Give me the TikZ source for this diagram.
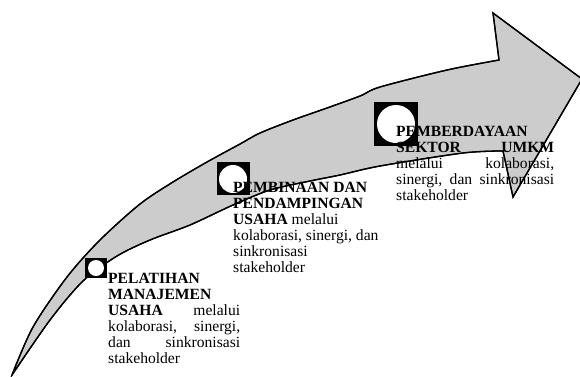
\documentclass[tikz,border=0pt]{standalone}
\usepackage{fontspec}
\setmainfont{Liberation Serif}
\begin{document}
\begin{tikzpicture}[x=1pt,y=-1pt,
  arrowbody/.style={fill=black!20},
  arrowline/.style={draw=black, line width=1.3pt, line join=miter, miter limit=20},
  marker/.style={fill=black, draw=none, inner sep=0pt, anchor=north west},
  hole/.style={fill=white, draw=none, circle, inner sep=0pt},
  txt/.style={inner sep=0pt, anchor=base west, font=\fontsize{15.6}{16}\selectfont}]
\useasboundingbox (0,0) rectangle (580,376);
\begin{scope}
\clip (0,0) rectangle (580,376);
% arrow body with outline
\path[arrowbody, arrowline] plot[smooth] coordinates {(12,375) (33,327) (67,277) (100,240) (140,204) (173,182) (207,162) (240,144) (260,133) (293,120) (327,108) (360,96) (380,87) (447,70) (499,60)}
  -- (493,13) -- (582,79) -- (513,197) -- (503,151)
  -- plot[smooth] coordinates {(503,151) (463,153) (380,166) (340,175) (310,181) (270,190) (233,205) (190,225) (150,240) (117,256) (83,281) (50,320) (12,375)} -- cycle;
\end{scope}
% markers
\node[marker, minimum width=22pt, minimum height=20pt] (s1) at (85,258) {};
\node[hole, minimum size=16pt] (c1) at (96,268) {};
\node[marker, minimum width=33pt, minimum height=33pt] (s2) at (217,162) {};
\node[hole, minimum size=28pt] (c2) at (233,179) {};
\node[marker, minimum width=44pt, minimum height=44pt] (s3) at (374,102) {};
\node[hole, minimum size=38pt] (c3) at (396,124) {};
% texts
\node[txt] (t1) at (108,283) {\parbox[t]{132pt}{\raggedright
  \textbf{PELATIHAN}\\
  \textbf{MANAJEMEN}\\
  \textbf{USAHA}\hfill melalui\\
  kolaborasi,\hfill sinergi,\\
  dan\hfill sinkronisasi\\
  stakeholder}};
\node[txt] (t2) at (233,192) {\parbox[t]{155pt}{\raggedright
  \textbf{PEMBINAAN DAN}\\
  \textbf{PENDAMPINGAN}\\
  \textbf{USAHA} melalui\\
  kolaborasi, sinergi, dan\\
  sinkronisasi\\
  stakeholder}};
\node[txt] (t3) at (396,136) {\parbox[t]{158pt}{\raggedright
  \textbf{PEMBERDAYAAN}\\
  \textbf{SEKTOR}\hfill\textbf{UMKM}\\
  melalui\hfill kolaborasi,\\
  sinergi,\hfill dan\hfill sinkronisasi\\
  stakeholder}};
% arrow outline again, over the texts but not over the markers
\begin{scope}[even odd rule]
\clip (0,0) rectangle (580,376)
  (s1.north west) rectangle (s1.south east)
  (s2.north west) rectangle (s2.south east)
  (s3.north west) rectangle (s3.south east);
\path[arrowline] plot[smooth] coordinates {(12,375) (33,327) (67,277) (100,240) (140,204) (173,182) (207,162) (240,144) (260,133) (293,120) (327,108) (360,96) (380,87) (447,70) (499,60)}
  -- (493,13) -- (582,79) -- (513,197) -- (503,151)
  -- plot[smooth] coordinates {(503,151) (463,153) (380,166) (340,175) (310,181) (270,190) (233,205) (190,225) (150,240) (117,256) (83,281) (50,320) (12,375)} -- cycle;
\end{scope}
\end{tikzpicture}
\end{document}
